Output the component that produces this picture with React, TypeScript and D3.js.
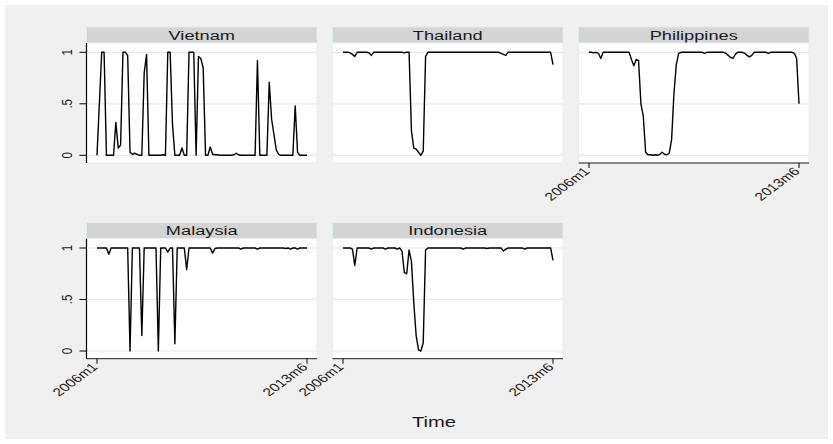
import * as d3 from "d3";

// monthly values, 2006m1 .. 2013m6 (90 months)
const vietnam = [
  0, 0.5, 1, 1, 0, 0, 0, 0, 0.32, 0.07,
  0.1, 1, 1, 0.97, 0.03, 0.01, 0.02, 0.01, 0, 0,
  0.8, 0.98, 0, 0, 0, 0, 0, 0, 0.005, 0,
  1, 1, 0.3, 0, 0, 0, 0.07, 0, 0, 1,
  1, 1, 0, 0.96, 0.94, 0.85, 0, 0, 0.08, 0.01,
  0.005, 0.005, 0, 0, 0, 0, 0, 0, 0.005, 0.02,
  0.005, 0, 0, 0, 0, 0, 0, 0, 0.92, 0,
  0, 0, 0, 0.71, 0.35, 0.2, 0.05, 0.01, 0, 0,
  0, 0, 0, 0, 0.48, 0.03, 0, 0, 0, 0,
];
const thailand = [
  1, 1, 1, 0.995, 0.98, 0.96, 1, 1, 1, 1,
  1, 0.995, 0.97, 1, 1, 1, 1, 1, 1, 1,
  1, 1, 1, 1, 1, 1, 0.995, 1, 1, 0.24,
  0.07, 0.06, 0.03, 0, 0.04, 0.96, 1, 1, 1, 1,
  1, 1, 1, 1, 1, 1, 1, 1, 1, 1,
  1, 1, 1, 1, 1, 1, 1, 1, 1, 1,
  1, 1, 1, 1, 1, 1, 1, 0.99, 0.98, 0.97,
  1, 1, 1, 1, 1, 1, 1, 1, 1, 1,
  1, 1, 1, 1, 1, 1, 1, 1, 1, 0.88,
];
const philippines = [
  1, 1, 0.995, 1, 0.99, 0.94, 1, 1, 1, 1,
  1, 1, 1, 1, 1, 1, 1, 1, 0.93, 0.87,
  0.93, 0.92, 0.5, 0.38, 0.03, 0.005, 0.005, 0, 0.005, 0,
  0.01, 0.03, 0.01, 0.005, 0.02, 0.15, 0.6, 0.88, 0.99, 1,
  1, 1, 1, 1, 1, 1, 1, 1, 1, 0.99,
  1, 1, 1, 1, 1, 1, 1, 1, 0.99, 0.97,
  0.95, 0.94, 0.98, 1, 1, 1, 0.99, 0.97, 0.955, 0.97,
  1, 1, 1, 1, 1, 1, 0.99, 1, 1, 1,
  1, 1, 1, 1, 1, 1, 1, 0.99, 0.94, 0.5,
];
const malaysia = [
  1, 1, 1, 1, 1, 0.94, 1, 1, 1, 1,
  1, 1, 1, 1, 0, 1, 1, 1, 1, 0.15,
  1, 1, 1, 1, 1, 1, 0, 1, 1, 1,
  0.96, 1, 1, 0.07, 1, 1, 1, 1, 0.79, 1,
  1, 1, 1, 1, 1, 1, 1, 1, 1, 0.95,
  0.995, 1, 1, 1, 1, 1, 1, 1, 1, 1,
  1, 0.99, 1, 1, 1, 1, 1, 1, 0.99, 1,
  1, 1, 1, 1, 1, 1, 1, 1, 1, 1,
  0.995, 1, 0.99, 1, 1, 0.99, 1, 1, 1, 1,
];
const indonesia = [
  1, 1, 1, 1, 0.99, 0.83, 1, 1, 1, 1,
  1, 1, 0.99, 1, 1, 1, 1, 1, 0.99, 1,
  1, 1, 1, 0.99, 1, 0.97, 0.76, 0.75, 0.98, 0.87,
  0.47, 0.15, 0.01, 0, 0.08, 0.98, 1, 1, 1, 1,
  1, 1, 1, 1, 1, 1, 1, 1, 1, 1,
  1, 0.99, 1, 1, 1, 1, 1, 1, 1, 1,
  1, 0.995, 1, 1, 1, 1, 1, 1, 0.97, 0.99,
  1, 1, 1, 1, 1, 1, 1, 0.99, 1, 1,
  1, 1, 1, 1, 1, 1, 1, 1, 1, 0.88,
];

const countries = ["Vietnam", "Thailand", "Philippines", "Malaysia", "Indonesia"];
const series = [vietnam, thailand, philippines, malaysia, indonesia];
const yTicks = [0, 0.5, 1];
const yTickLabels = ["0", ".5", "1"];
const xTickIdx = [0, 89];
const xTickLabels = ["2006m1", "2013m6"];

const W = 833, H = 444;
const SX = 1.35; // the source image is stretched horizontally
const FONT = "'Liberation Sans', Arial, Helvetica, sans-serif";
const colX = [86.5, 332.5, 578.5];
const rowY = [27, 222.7];
const panelW = 230.5, headH = 16, plotH = 120;

const stretch = (x: number, y: number, rot = 0) =>
  `translate(${x},${y}) scale(${SX},1) rotate(${rot})`;

function Panel({name, values, idx}: {name: string; values: number[]; idx: number}) {
  const col = idx % 3, row = Math.floor(idx / 3);
  const x0 = colX[col], top = rowY[row] + headH;
  const showY = col === 0;
  const showX = idx + 3 >= countries.length;

  const x = d3.scaleLinear().domain([0, values.length - 1]).range([x0 + 10.5, x0 + 220.5]);
  const y = d3.scaleLinear().domain([0, 1]).range([top + 112.3, top + 9.3]);
  const line = d3.line<number>().x((_, i) => x(i)).y(d => y(d));
  const axisY = top + plotH;

  return (
    <g>
      <rect x={x0} y={rowY[row]} width={panelW} height={headH} fill="#d4d4d4" stroke="#e1eaef" strokeWidth={1}/>
      <text transform={stretch(x0 + panelW / 2, rowY[row] + 12.6)} textAnchor="middle"
            fontSize={13.5} fill="#1a1a1a">{name}</text>
      <rect x={x0} y={top} width={panelW} height={plotH} fill="#fff" stroke="#e6edf1" strokeWidth={1}/>
      {yTicks.map(t => (
        <line key={t} x1={x0} x2={x0 + panelW} y1={y(t)} y2={y(t)} stroke="#e8e8e8" strokeWidth={1.2}/>
      ))}
      <path d={line(values) ?? ""} fill="none" stroke="#000" strokeWidth={1.4} strokeLinejoin="round"/>
      {showY && (
        <g>
          <line x1={x0} x2={x0} y1={top} y2={axisY} stroke="#000" strokeWidth={1.2}/>
          {yTicks.map((t, i) => (
            <g key={t}>
              <line x1={x0 - 7} x2={x0} y1={y(t)} y2={y(t)} stroke="#000" strokeWidth={1}/>
              <text transform={stretch(x0 - 14.5, y(t), -90)} textAnchor="middle"
                    fontSize={11.5} fill="#1a1a1a">{yTickLabels[i]}</text>
            </g>
          ))}
        </g>
      )}
      {showX && (
        <g>
          <line x1={x0} x2={x0 + panelW} y1={axisY} y2={axisY} stroke="#222" strokeWidth={1}/>
          {xTickIdx.map((t, i) => (
            <g key={t}>
              <line x1={x(t)} x2={x(t)} y1={axisY} y2={axisY + 5} stroke="#000" strokeWidth={1}/>
              <text transform={stretch(x(t) + 1.7, axisY + 9, -45)} textAnchor="end"
                    fontSize={11.5} fill="#1a1a1a">{xTickLabels[i]}</text>
            </g>
          ))}
        </g>
      )}
    </g>
  );
}

export default function App() {
  return (
    <svg width={W} height={H} fontFamily={FONT}
         style={{position: "absolute", left: 0, top: 0, background: "#fff"}}>
      <rect x={5} y={5} width={W - 10} height={H - 10} fill="#f0f0f0"/>
      {countries.map((c, i) => (
        <Panel key={c} name={c} values={series[i]} idx={i}/>
      ))}
      <text transform={stretch(434, 426.5)} textAnchor="middle" fontSize={15} fill="#1a1a1a">Time</text>
    </svg>
  );
}
